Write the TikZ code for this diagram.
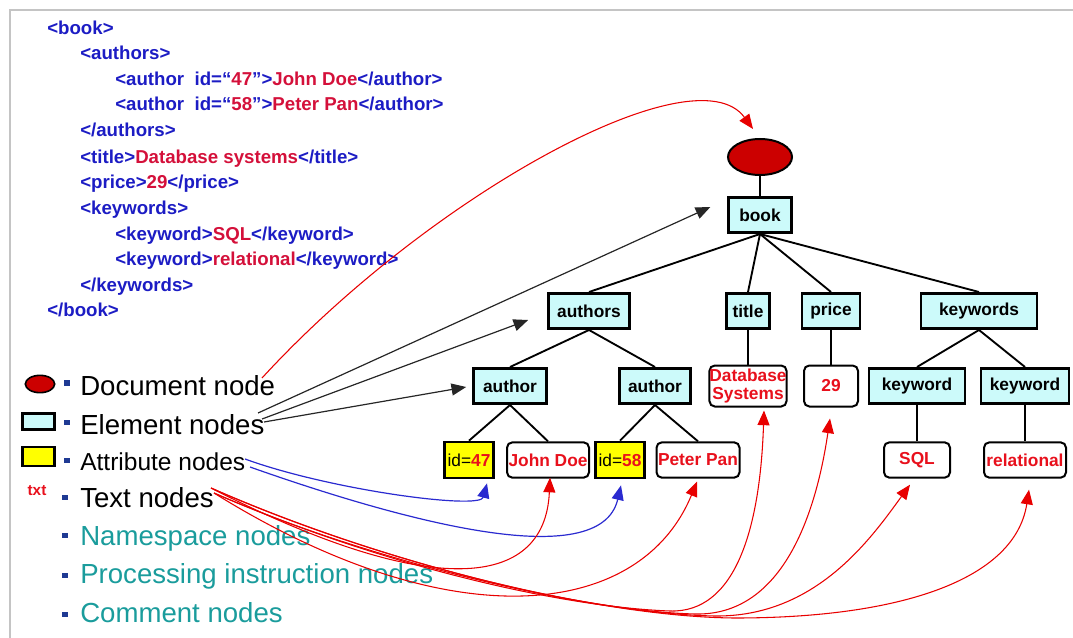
\documentclass[tikz,border=0pt]{standalone}
\usepackage{fontspec}
\setmainfont{Liberation Sans}
\usetikzlibrary{arrows.meta,positioning,calc,shapes.geometric}

\begin{document}
\begin{tikzpicture}[x=0.75pt,y=-0.75pt]

	% ============================================================
	% COLORS
	% ============================================================
	\definecolor{xmlBlue}{HTML}{1C1CC4}
	\definecolor{xmlRed}{HTML}{D4103A}
	\definecolor{nodeRed}{HTML}{E8101C}
	\definecolor{docFill}{HTML}{CC0000}
	\definecolor{elemFill}{HTML}{CCFAFA}
	\definecolor{attrFill}{HTML}{FFFF00}
	\definecolor{nsTeal}{HTML}{1A9C9C}
	\definecolor{bulletBlue}{HTML}{1F3A93}
	\definecolor{frameGray}{HTML}{C4C4C4}
	\definecolor{arrowRed}{HTML}{E80000}
	\definecolor{arrowBlue}{HTML}{2A2AD0}

	% ============================================================
	% STYLES
	% ============================================================
	\tikzset{
		xml/.style={anchor=base west, inner sep=0pt, font=\bfseries\fontsize{14}{16}\selectfont, text=xmlBlue},
		legend/.style={anchor=base west, inner sep=0pt, font=\fontsize{20.7}{24}\selectfont, text=black},
		bulletSq/.style={fill=bulletBlue, minimum size=4pt, inner sep=0pt},
		elem/.style={draw, line width=2pt, fill=elemFill, inner sep=0pt, minimum height=26.5pt, font=\bfseries\fontsize{13}{15}\selectfont},
		attr/.style={draw, line width=2pt, fill=attrFill, inner sep=0pt, minimum width=36.5pt, minimum height=27pt, font=\fontsize{13}{15}\selectfont},
		txtBox/.style={draw, line width=1.5pt, rounded corners=4pt, fill=white, inner sep=0pt, minimum height=26.5pt, text=nodeRed, align=center, font=\bfseries\fontsize{13}{14}\selectfont},
		docNode/.style={ellipse, draw, line width=1.5pt, fill=docFill, inner sep=0pt, minimum width=48pt, minimum height=27pt},
		treeLine/.style={line width=1.4pt},
		elemArr/.style={-{Triangle[length=11pt,width=9pt]}, line width=0.9pt, draw=black!85},
		attrArr/.style={-{Triangle[length=11pt,width=9pt]}, line width=0.9pt, draw=arrowBlue},
		textArr/.style={-{Triangle[length=11pt,width=9pt]}, line width=0.8pt, draw=arrowRed}
	}

	\useasboundingbox (0,0) rectangle (1073,638);

	% ============================================================
	% FRAME
	% ============================================================
	\draw[frameGray, line width=1.5pt] (10,638) -- (10,10) -- (1073,10);

	% ============================================================
	% XML SOURCE
	% ============================================================
	\node[xml] (xBook)      at (47,34.5) {<book>};
	\node[xml] (xAuthors)   at (80,60)   {<authors>};
	\node[xml] (xAuthorA)   at (115,86)  {<author\ \ id=“{\color{xmlRed}47}”>{\color{xmlRed}John Doe}</author>};
	\node[xml] (xAuthorB)   at (115,111) {<author\ \ id=“{\color{xmlRed}58}”>{\color{xmlRed}Peter Pan}</author>};
	\node[xml] (xAuthorsE)  at (80,137)  {</authors>};
	\node[xml] (xTitle)     at (80,163)  {<title>{\color{xmlRed}Database systems}</title>};
	\node[xml] (xPrice)     at (80,188)  {<price>{\color{xmlRed}29}</price>};
	\node[xml] (xKeywords)  at (80,214)  {<keywords>};
	\node[xml] (xKeywordA)  at (115,240) {<keyword>{\color{xmlRed}SQL}</keyword>};
	\node[xml] (xKeywordB)  at (115,265) {<keyword>{\color{xmlRed}relational}</keyword>};
	\node[xml] (xKeywordsE) at (80,291)  {</keywords>};
	\node[xml] (xBookE)     at (47,316)  {</book>};

	% ============================================================
	% LEGEND
	% ============================================================
	\node[docNode, minimum width=22pt, minimum height=13pt, line width=1.2pt] (docIcon) at (40,384) {};
	\node[draw, line width=1.8pt, fill=elemFill, minimum width=24pt, minimum height=12pt, inner sep=0pt] (elemIcon) at (38.5,421.5) {};
	\node[draw, line width=1.8pt, fill=attrFill, minimum width=24pt, minimum height=14pt, inner sep=0pt] (attrIcon) at (38.5,456.5) {};
	\node[text=nodeRed, inner sep=0pt, font=\bfseries\fontsize{11.5}{12}\selectfont] (txtIcon) at (37,491) {txt};

	\node[bulletSq] (bDoc)  at (67,383)   {};
	\node[bulletSq] (bElem) at (67,422.5) {};
	\node[bulletSq] (bAttr) at (67,460.5) {};
	\node[bulletSq] (bText) at (65,497.5) {};
	\node[bulletSq] (bNs)   at (65,535.5) {};
	\node[bulletSq] (bPi)   at (65,575.5) {};
	\node[bulletSq] (bCom)  at (65,614.5) {};

	\node[legend] (lDoc)  at (80,395) {Document node};
	\node[legend] (lElem) at (80,434) {Element nodes};
	\node[legend, font=\fontsize{18.4}{22}\selectfont] (lAttr) at (80,470) {Attribute nodes};
	\node[legend] (lText) at (80,507) {Text nodes};
	\node[legend, text=nsTeal] (lNs)  at (80,545) {Namespace nodes};
	\node[legend, text=nsTeal] (lPi)  at (80,583) {Processing instruction nodes};
	\node[legend, text=nsTeal] (lCom) at (80,622) {Comment nodes};

	% ============================================================
	% TREE
	% ============================================================
	\node[docNode] (doc) at (760,157) {};
	\node[elem, minimum width=47pt] (book) at (760,215) {book};

	\node[elem, minimum width=60.75pt] (authors)  at (589,311) {authors};
	\node[elem, minimum width=32.25pt] (title)    at (748,311) {title};
	\node[elem, minimum width=43.5pt]  (price)    at (831,311) {price};
	\node[elem, minimum width=87pt]    (keywords) at (979,311) {keywords};

	\node[elem, minimum width=54.75pt] (author1)  at (510,386) {author};
	\node[elem, minimum width=53pt]    (author2)  at (655,386) {author};
	\node[txtBox, minimum width=54pt, minimum height=30.75pt]   (dbsys)      at (748,386) {Database\\Systems};
	\node[txtBox, minimum width=40.5pt, minimum height=30.75pt] (twentynine) at (831,386) {29};
	\node[elem, minimum width=72pt]    (keyword1) at (917,386) {keyword};
	\node[elem, minimum width=66pt]    (keyword2) at (1025,386) {keyword};

	\node[attr] (id47) at (469,460) {id={\bfseries\color{nodeRed}47}};
	\node[txtBox, minimum width=61.5pt]  (johndoe)    at (548,460)  {John Doe};
	\node[attr] (id58) at (620,460) {id={\bfseries\color{nodeRed}58}};
	\node[txtBox, minimum width=62.25pt] (peterpan)   at (698,460)  {Peter Pan};
	\node[txtBox, minimum width=49.5pt]  (sql)        at (917,460)  {SQL};
	\node[txtBox, minimum width=61.5pt]  (relational) at (1025,460) {relational};

	% ============================================================
	% TREE EDGES
	% ============================================================
	\draw[treeLine] (doc.south) -- (book.north);
	\draw[treeLine] (book.south) -- (authors.north);
	\draw[treeLine] (book.south) -- (title.north);
	\draw[treeLine] (book.south) -- (price.north);
	\draw[treeLine] (book.south) -- (keywords.north);
	\draw[treeLine] (authors.south) -- (author1.north);
	\draw[treeLine] (authors.south) -- (author2.north);
	\draw[treeLine] (title.south) -- (dbsys.north);
	\draw[treeLine] (price.south) -- (twentynine.north);
	\draw[treeLine] (keywords.south) -- (keyword1.north);
	\draw[treeLine] (keywords.south) -- (keyword2.north);
	\draw[treeLine] (author1.south) -- (id47.north);
	\draw[treeLine] (author1.south) -- (johndoe.north);
	\draw[treeLine] (author2.south) -- (id58.north);
	\draw[treeLine] (author2.south) -- (peterpan.north);
	\draw[treeLine] (keyword1.south) -- (sql.north);
	\draw[treeLine] (keyword2.south) -- (relational.north);

	% ============================================================
	% LEGEND ARROWS
	% ============================================================
	\coordinate (srcDoc)   at (262,378);
	\coordinate (srcElemA) at (258,413);
	\coordinate (srcElemB) at (262,419);
	\coordinate (srcElemC) at (264,422);
	\coordinate (srcAttrA) at (245,459);
	\coordinate (srcAttrB) at (250,467);
	\coordinate (srcTextA) at (211,488);
	\coordinate (srcTextB) at (214,493);

	% document node
	\draw[textArr] (srcDoc) .. controls (430,195) and (695,50) .. ($(doc.north)+(-7,-9)$);

	% element nodes
	\draw[elemArr] (srcElemA) -- ($(book.west)+(-17,-8)$);
	\draw[elemArr] (srcElemB) -- ($(authors.west)+(-19,9)$);
	\draw[elemArr] (srcElemC) -- ($(author1.west)+(-6,1)$);

	% attribute nodes
	\draw[attrArr] (srcAttrA) .. controls (330,490) and (480,510) .. ($(id47.south)+(18,4)$);
	\draw[attrArr] (srcAttrB) .. controls (400,520) and (600,575) .. ($(id58.south)+(1,6)$);

	% text nodes
	\draw[textArr] (srcTextA) .. controls (430,600) and (545,590) .. ($(johndoe.south)+(2,-1)$);
	\draw[textArr] (srcTextB) .. controls (450,640) and (640,620) .. ($(peterpan.south)+(-1,3)$);
	\draw[textArr] (srcTextB) .. controls (380,565) and (560,607) .. (670,611)
		.. controls (735,613) and (760,530) .. ($(dbsys.south)+(16,3)$);
	\draw[textArr] (srcTextA) .. controls (380,562) and (580,611) .. (695,614)
		.. controls (780,616) and (815,520) .. ($(twentynine.south)+(-1,11)$);
	\draw[textArr] (srcTextB) .. controls (380,566) and (600,614) .. (715,616)
		.. controls (815,617) and (870,540) .. ($(sql.south)+(-7,6)$);
	\draw[textArr] (srcTextA) .. controls (380,563) and (600,617) .. (735,618)
		.. controls (900,618) and (1015,580) .. ($(relational.south)+(4,11)$);

\end{tikzpicture}
\end{document}
